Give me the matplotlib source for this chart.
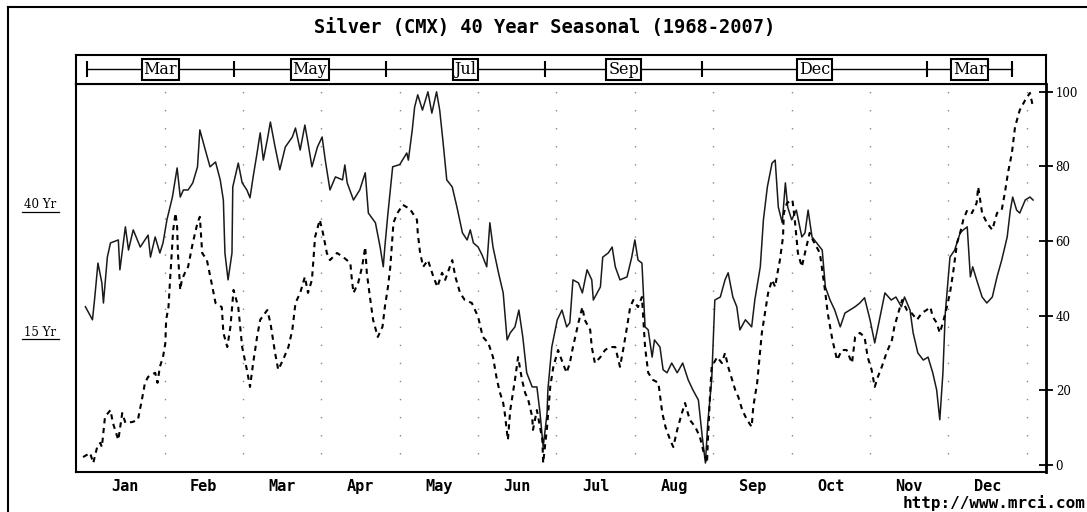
import matplotlib.pyplot as plt
from matplotlib.lines import Line2D

# text
title = "Silver (CMX) 40 Year Seasonal (1968-2007)"
months = ["Jan", "Feb", "Mar", "Apr", "May", "Jun",
          "Jul", "Aug", "Sep", "Oct", "Nov", "Dec"]
contracts = ["Mar", "May", "Jul", "Sep", "Dec", "Mar"]
# contract roll points, in months from Jan 1
contract_rolls = [0.01, 1.88, 3.83, 5.85, 7.86, 10.73, 11.81]
yticks = [0, 20, 40, 60, 80, 100]
url = "http://www.mrci.com"

# 40 year seasonal (solid), x in months from Jan 1, y = seasonal index
yr40_month = [-0.01, 0.08, 0.11, 0.15, 0.20, 0.22, 0.27, 0.31, 0.41, 0.43,
              0.50, 0.54, 0.60, 0.69, 0.79, 0.82, 0.88, 0.94, 0.98, 1.03,
              1.10, 1.16, 1.20, 1.24, 1.30, 1.36, 1.42, 1.45, 1.52, 1.58,
              1.65, 1.71, 1.75, 1.77, 1.81, 1.86, 1.87, 1.94, 1.99, 2.05,
              2.09, 2.13, 2.18, 2.22, 2.26, 2.31, 2.35, 2.41, 2.47, 2.54,
              2.63, 2.67, 2.73, 2.79, 2.83, 2.88, 2.95, 3.01, 3.05, 3.11,
              3.18, 3.27, 3.30, 3.33, 3.41, 3.49, 3.56, 3.60, 3.69, 3.75,
              3.79, 3.81, 3.85, 3.91, 4.00, 4.09, 4.11, 4.16, 4.19, 4.23,
              4.29, 4.36, 4.41, 4.47, 4.51, 4.55, 4.60, 4.67, 4.73, 4.80,
              4.86, 4.90, 4.94, 5.00, 5.05, 5.11, 5.15, 5.19, 5.26, 5.32,
              5.37, 5.41, 5.47, 5.52, 5.57, 5.62, 5.69, 5.75, 5.79, 5.83,
              5.88, 5.89, 5.94, 6.01, 6.07, 6.13, 6.17, 6.21, 6.28, 6.33,
              6.39, 6.45, 6.47, 6.56, 6.59, 6.66, 6.71, 6.75, 6.81, 6.90,
              6.96, 7.00, 7.04, 7.09, 7.13, 7.17, 7.22, 7.25, 7.32, 7.36,
              7.41, 7.47, 7.54, 7.61, 7.68, 7.74, 7.81, 7.86, 7.90, 7.93,
              7.98, 8.02, 8.09, 8.15, 8.19, 8.25, 8.30, 8.34, 8.41, 8.49,
              8.53, 8.60, 8.64, 8.69, 8.75, 8.79, 8.83, 8.88, 8.92, 8.95,
              9.00, 9.06, 9.13, 9.17, 9.21, 9.26, 9.32, 9.39, 9.43, 9.49,
              9.55, 9.62, 9.68, 9.74, 9.81, 9.87, 9.93, 10.00, 10.06, 10.12,
              10.19, 10.27, 10.33, 10.40, 10.44, 10.51, 10.55, 10.61, 10.68, 10.74,
              10.80, 10.85, 10.89, 10.93, 10.96, 11.02, 11.08, 11.15, 11.19, 11.24,
              11.28, 11.31, 11.36, 11.43, 11.49, 11.56, 11.62, 11.68, 11.75, 11.79,
              11.82, 11.87, 11.91, 11.98, 12.04, 12.08]
yr40_value = [42.4, 38.9, 45.0, 54.1, 48.8, 43.4, 55.7, 59.5, 60.3, 52.3,
              63.8, 57.6, 63.0, 58.4, 61.6, 55.7, 61.1, 56.8, 59.5, 65.7,
              71.8, 79.6, 71.8, 73.7, 73.7, 75.6, 79.9, 89.8, 84.4, 79.9,
              81.2, 76.4, 71.0, 56.8, 49.6, 56.8, 74.5, 80.9, 75.6, 73.7,
              71.6, 77.2, 83.6, 89.0, 81.7, 87.1, 91.9, 85.2, 79.1, 85.2,
              87.9, 90.3, 84.4, 91.1, 86.3, 79.9, 85.2, 87.9, 81.7, 73.7,
              77.2, 76.4, 80.4, 75.6, 71.0, 73.7, 78.3, 67.5, 64.9, 58.4,
              53.1, 58.4, 67.5, 79.9, 80.5, 83.6, 81.7, 89.8, 95.9, 99.2,
              95.1, 100.0, 94.3, 100.0, 95.1, 87.1, 76.4, 74.5, 69.1, 62.2,
              60.3, 63.0, 59.5, 58.4, 56.3, 53.1, 64.9, 58.4, 51.5, 46.1,
              33.5, 35.4, 37.0, 41.5, 34.3, 24.7, 20.9, 20.9, 13.9, 4.8,
              13.9, 20.1, 31.6, 38.9, 41.5, 37.0, 38.1, 49.6, 48.8, 46.1,
              52.3, 49.6, 44.2, 47.7, 55.7, 56.8, 58.4, 53.1, 49.6, 50.4,
              55.7, 60.3, 54.9, 54.1, 37.0, 36.2, 28.9, 33.5, 31.6, 25.5,
              24.7, 27.3, 24.7, 27.3, 22.8, 20.1, 17.4, 7.5, 0.5, 11.3,
              22.8, 44.2, 45.0, 49.6, 51.5, 45.0, 42.4, 36.2, 38.9, 37.0,
              44.2, 53.1, 65.7, 74.5, 80.9, 81.7, 69.1, 64.9, 75.6, 69.1,
              65.7, 68.3, 61.1, 62.2, 68.3, 61.1, 59.5, 57.6, 47.7, 44.2,
              41.5, 37.0, 40.7, 41.5, 42.4, 43.4, 44.8, 38.9, 32.7, 38.9,
              46.1, 44.2, 45.0, 42.4, 45.0, 41.5, 35.4, 30.0, 28.1, 28.9,
              24.7, 20.1, 12.1, 24.7, 40.7, 55.7, 57.6, 62.2, 63.0, 63.8,
              50.4, 53.1, 49.6, 45.0, 43.4, 45.0, 50.4, 54.9, 61.1, 68.3,
              71.8, 68.3, 67.5, 71.0, 71.8, 71.0]

# 15 year seasonal (dashed)
yr15_month = [-0.04, 0.05, 0.09, 0.14, 0.18, 0.20, 0.24, 0.31, 0.34, 0.41,
              0.46, 0.50, 0.59, 0.66, 0.71, 0.75, 0.79, 0.88, 0.91, 0.94,
              0.98, 1.01, 1.02, 1.05, 1.07, 1.11, 1.14, 1.16, 1.17, 1.20,
              1.22, 1.26, 1.30, 1.36, 1.42, 1.45, 1.48, 1.54, 1.61, 1.65,
              1.73, 1.75, 1.80, 1.84, 1.88, 1.94, 1.99, 2.05, 2.09, 2.13,
              2.18, 2.22, 2.31, 2.35, 2.41, 2.45, 2.51, 2.58, 2.63, 2.67,
              2.73, 2.79, 2.83, 2.88, 2.92, 2.98, 3.02, 3.07, 3.11, 3.20,
              3.28, 3.37, 3.39, 3.41, 3.47, 3.52, 3.56, 3.58, 3.62, 3.66,
              3.72, 3.78, 3.81, 3.85, 3.88, 3.92, 3.97, 4.04, 4.13, 4.22,
              4.23, 4.26, 4.30, 4.36, 4.43, 4.48, 4.54, 4.58, 4.67, 4.71,
              4.77, 4.83, 4.92, 5.00, 5.06, 5.13, 5.19, 5.24, 5.28, 5.32,
              5.34, 5.38, 5.41, 5.47, 5.51, 5.56, 5.60, 5.64, 5.69, 5.70,
              5.75, 5.79, 5.82, 5.83, 5.88, 5.92, 5.96, 6.02, 6.08, 6.13,
              6.17, 6.21, 6.28, 6.33, 6.36, 6.43, 6.45, 6.49, 6.56, 6.62,
              6.68, 6.75, 6.81, 6.85, 6.90, 6.94, 6.98, 7.04, 7.09, 7.13,
              7.17, 7.23, 7.30, 7.35, 7.39, 7.45, 7.49, 7.54, 7.60, 7.64,
              7.70, 7.77, 7.83, 7.87, 7.92, 7.93, 7.96, 7.98, 8.05, 8.11,
              8.15, 8.19, 8.24, 8.28, 8.32, 8.37, 8.43, 8.49, 8.51, 8.56,
              8.62, 8.66, 8.70, 8.75, 8.79, 8.81, 8.85, 8.89, 8.90, 8.94,
              9.01, 9.04, 9.08, 9.13, 9.17, 9.23, 9.27, 9.36, 9.43, 9.46,
              9.52, 9.58, 9.64, 9.70, 9.77, 9.81, 9.87, 9.93, 9.97, 10.02,
              10.06, 10.10, 10.15, 10.21, 10.28, 10.31, 10.36, 10.41, 10.47, 10.53,
              10.60, 10.66, 10.72, 10.77, 10.80, 10.85, 10.89, 10.93, 10.98, 11.02,
              11.06, 11.11, 11.15, 11.19, 11.24, 11.30, 11.36, 11.38, 11.43, 11.49,
              11.56, 11.62, 11.68, 11.72, 11.76, 11.81, 11.85, 11.91, 11.98, 12.04,
              12.08]
yr15_value = [2.1, 3.2, 0.5, 4.8, 5.9, 4.8, 12.9, 14.7, 11.3, 6.7,
              13.9, 11.3, 11.5, 12.1, 17.4, 22.0, 23.6, 24.7, 22.0, 26.3,
              28.9, 32.7, 38.9, 42.3, 49.6, 63.0, 67.5, 63.8, 56.8, 46.9,
              49.6, 51.5, 53.1, 59.5, 64.9, 66.5, 56.8, 54.9, 47.7, 43.4,
              42.3, 35.4, 31.6, 37.0, 46.9, 42.3, 31.6, 25.5, 20.9, 27.3,
              34.3, 38.9, 41.5, 38.1, 30.0, 25.5, 28.1, 31.6, 36.2, 43.4,
              46.1, 50.4, 46.1, 49.6, 61.1, 65.7, 62.2, 56.8, 54.9, 56.8,
              55.7, 54.1, 49.6, 46.1, 48.8, 53.1, 58.4, 51.5, 45.0, 38.9,
              34.3, 37.0, 42.3, 47.7, 53.1, 64.9, 67.5, 69.7, 68.6, 65.7,
              62.2, 56.8, 53.1, 54.9, 50.4, 47.7, 51.5, 49.6, 54.9, 50.4,
              46.1, 44.2, 43.4, 39.7, 34.3, 32.7, 28.9, 22.8, 19.3, 16.6,
              13.9, 6.7, 14.7, 22.8, 28.9, 22.8, 19.3, 17.4, 12.9, 9.4,
              14.7, 10.2, 6.7, 0.5, 10.2, 20.9, 26.3, 30.8, 27.3, 24.7,
              27.3, 31.6, 38.1, 42.3, 38.9, 36.2, 31.6, 27.3, 28.9, 30.8,
              31.6, 31.6, 26.3, 30.8, 37.0, 42.3, 44.2, 42.3, 45.0, 31.6,
              24.7, 22.8, 22.0, 13.9, 10.2, 6.7, 4.8, 9.4, 13.9, 16.6,
              12.1, 10.2, 7.5, 4.0, 0.5, 5.9, 19.3, 26.3, 28.9, 27.3,
              30.0, 26.3, 22.8, 20.1, 18.2, 14.7, 12.1, 10.2, 15.5, 22.0,
              35.4, 40.7, 46.1, 49.6, 47.7, 50.4, 54.9, 61.1, 67.5, 70.2,
              71.0, 65.7, 56.8, 53.1, 56.8, 62.2, 60.3, 56.8, 46.1, 40.7,
              33.5, 28.1, 30.8, 30.8, 27.3, 34.3, 35.4, 34.3, 28.9, 25.5,
              20.9, 23.6, 26.3, 30.0, 33.5, 37.0, 40.7, 44.2, 41.5, 40.7,
              38.9, 40.7, 41.5, 42.3, 39.7, 38.1, 35.4, 38.1, 42.3, 46.1,
              51.5, 59.5, 62.2, 65.7, 68.3, 67.5, 70.2, 74.5, 67.5, 64.9,
              63.0, 67.5, 68.3, 72.9, 78.3, 83.6, 90.6, 95.1, 97.8, 99.7,
              95.9]

W, H = 1087, 512
fig = plt.figure(figsize=(W / 100, H / 100), dpi=100)
fig.patch.set_facecolor("white")

# outer frame (left and top edges visible)
fig.add_artist(Line2D([8 / W, 8 / W], [0, 1 - 7 / H], transform=fig.transFigure, color="black", lw=1.5))
fig.add_artist(Line2D([8 / W, 1], [1 - 7 / H, 1 - 7 / H], transform=fig.transFigure, color="black", lw=1.5))

xmin, xmax = -0.13, 12.245
ax = fig.add_axes([76 / W, 1 - 472 / H, 970 / W, 388 / H])
ax.set_xlim(xmin, xmax)
ax.set_ylim(-1.9, 102.1)

for k in range(1, 13):
    ax.axvline(k, color="#888888", lw=1, ls=(0, (1, 12)), zorder=1)

ax.plot(yr40_month, yr40_value, color="#1a1a1a", lw=1.1, zorder=3)
ax.plot(yr15_month, yr15_value, color="black", lw=1.5, ls=(0, (2.5, 2.2)), zorder=3)

for s in ax.spines.values():
    s.set_linewidth(1.5)
ax.spines["right"].set_linewidth(2)
ax.yaxis.tick_right()
ax.set_yticks(yticks)
ax.set_yticklabels([str(t) for t in yticks], family="DejaVu Serif", fontsize=8.5)
ax.tick_params(axis="y", direction="inout", length=10, width=1.3, pad=2)
ax.set_xticks([k + 0.5 for k in range(12)])
ax.set_xticklabels(months, family="DejaVu Sans Mono", fontweight="bold", fontsize=11)
ax.tick_params(axis="x", length=0, pad=5)

# contract strip above the plot
strip = fig.add_axes([76 / W, 1 - 84 / H, 970 / W, 29 / H])
strip.set_xlim(xmin, xmax)
strip.set_ylim(0, 1)
strip.set_xticks([])
strip.set_yticks([])
for s in strip.spines.values():
    s.set_linewidth(1.5)
strip.plot([contract_rolls[0], contract_rolls[-1]], [0.53, 0.53], color="black", lw=1)
strip.vlines(contract_rolls, 0.25, 0.8, color="black", lw=1.5)
for i, name in enumerate(contracts):
    mid = (contract_rolls[i] + contract_rolls[i + 1]) / 2
    strip.text(mid, 0.5, name, ha="center", va="center", family="DejaVu Serif",
               fontsize=11.5,
               bbox=dict(boxstyle="square,pad=0.12", fc="white", ec="black", lw=1.5))

fig.text(545 / W, 1 - 27 / H, title, ha="center", va="center",
         family="DejaVu Sans Mono", fontweight="bold", fontsize=13.5)
fig.text(1086 / W, 1 - 503 / H, url, ha="right", va="center",
         family="DejaVu Sans Mono", fontweight="bold", fontsize=11.5)

# left side series labels
for label, ypix in [("40 Yr", 205), ("15 Yr", 332)]:
    fig.text(40 / W, 1 - ypix / H, label, ha="center", va="center",
             family="DejaVu Serif", fontsize=8.5)
    fig.add_artist(Line2D([22 / W, 59 / W], [1 - (ypix + 7) / H] * 2,
                          transform=fig.transFigure, color="black", lw=0.9))

fig.savefig("out.png", dpi=100)
